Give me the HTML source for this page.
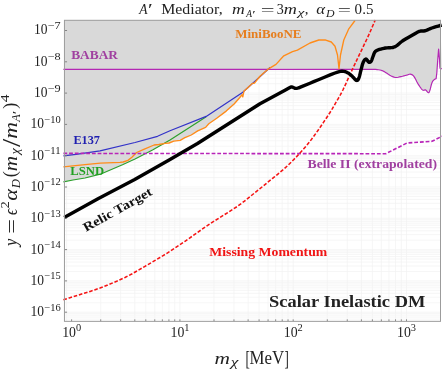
<!DOCTYPE html>
<html><head><meta charset="utf-8"><title>Scalar Inelastic DM</title>
<style>html,body{margin:0;padding:0;background:#fff}svg{display:block}text{font-family:"Liberation Serif",serif;fill:#222}.b{font-weight:bold}.i{font-style:italic}</style></head><body>
<svg width="442" height="372" viewBox="0 0 442 372">
<rect width="442" height="372" fill="#fff"/>
<path d="M66.60 20.30V321.35M100.71 20.30V321.35M120.66 20.30V321.35M134.81 20.30V321.35M145.79 20.30V321.35M154.76 20.30V321.35M162.35 20.30V321.35M168.92 20.30V321.35M174.72 20.30V321.35M179.90 20.30V321.35M214.01 20.30V321.35M233.96 20.30V321.35M248.11 20.30V321.35M259.09 20.30V321.35M268.06 20.30V321.35M275.65 20.30V321.35M282.22 20.30V321.35M288.02 20.30V321.35M293.20 20.30V321.35M327.31 20.30V321.35M347.26 20.30V321.35M361.41 20.30V321.35M372.39 20.30V321.35M381.36 20.30V321.35M388.95 20.30V321.35M395.52 20.30V321.35M401.32 20.30V321.35M406.50 20.30V321.35M64.45 319.14H440.50M64.45 317.05H440.50M64.45 315.23H440.50M64.45 313.63H440.50M64.45 312.20H440.50M64.45 302.78H440.50M64.45 297.27H440.50M64.45 293.36H440.50M64.45 290.32H440.50M64.45 287.84H440.50M64.45 285.75H440.50M64.45 283.93H440.50M64.45 282.33H440.50M64.45 280.90H440.50M64.45 271.48H440.50M64.45 265.97H440.50M64.45 262.06H440.50M64.45 259.02H440.50M64.45 256.54H440.50M64.45 254.45H440.50M64.45 252.63H440.50M64.45 251.03H440.50M64.45 249.60H440.50M64.45 240.18H440.50M64.45 234.67H440.50M64.45 230.76H440.50M64.45 227.72H440.50M64.45 225.24H440.50M64.45 223.15H440.50M64.45 221.33H440.50M64.45 219.73H440.50M64.45 218.30H440.50M64.45 208.88H440.50M64.45 203.37H440.50M64.45 199.46H440.50M64.45 196.42H440.50M64.45 193.94H440.50M64.45 191.85H440.50M64.45 190.03H440.50M64.45 188.43H440.50M64.45 187.00H440.50M64.45 177.58H440.50M64.45 172.07H440.50M64.45 168.16H440.50M64.45 165.12H440.50M64.45 162.64H440.50M64.45 160.55H440.50M64.45 158.73H440.50M64.45 157.13H440.50M64.45 155.70H440.50M64.45 146.28H440.50M64.45 140.77H440.50M64.45 136.86H440.50M64.45 133.82H440.50M64.45 131.34H440.50M64.45 129.25H440.50M64.45 127.43H440.50M64.45 125.83H440.50M64.45 124.40H440.50M64.45 114.98H440.50M64.45 109.47H440.50M64.45 105.56H440.50M64.45 102.52H440.50M64.45 100.04H440.50M64.45 97.95H440.50M64.45 96.13H440.50M64.45 94.53H440.50M64.45 93.10H440.50M64.45 83.68H440.50M64.45 78.17H440.50M64.45 74.26H440.50M64.45 71.22H440.50M64.45 68.74H440.50M64.45 66.65H440.50M64.45 64.83H440.50M64.45 63.23H440.50M64.45 61.80H440.50M64.45 52.38H440.50M64.45 46.87H440.50M64.45 42.96H440.50M64.45 39.92H440.50M64.45 37.44H440.50M64.45 35.35H440.50M64.45 33.53H440.50M64.45 31.93H440.50M64.45 30.50H440.50M64.45 21.08H440.50" stroke="#f2f2f2" stroke-width="0.7" fill="none"/>
<polygon points="64.45,20.30 64.45,181.80 73.00,180.00 85.00,178.00 100.30,174.20 122.50,164.80 135.00,159.00 152.50,150.00 165.10,143.40 169.10,143.00 173.80,141.10 180.20,140.30 184.90,137.70 191.30,135.00 197.70,130.90 205.60,127.40 208.80,123.80 216.70,118.30 226.20,111.10 234.10,104.00 239.60,97.70 242.00,94.80 242.80,96.90 243.90,91.30 249.90,85.80 252.00,83.60 254.50,83.00 260.00,76.30 268.90,68.60 370.00,69.35 374.70,69.35 375.68,69.44 377.09,69.57 378.63,69.76 380.00,70.00 381.09,70.29 382.08,70.62 383.08,71.04 384.20,71.60 385.50,72.39 386.91,73.36 388.37,74.34 389.80,75.20 391.20,75.94 392.60,76.63 394.00,77.18 395.40,77.50 396.80,77.51 398.20,77.28 399.60,76.94 401.00,76.60 402.45,76.28 403.93,75.91 405.34,75.53 406.60,75.20 407.64,74.85 408.53,74.49 409.35,74.24 410.20,74.20 411.07,74.34 411.91,74.62 412.78,75.16 413.70,76.10 414.70,77.62 415.76,79.59 416.83,81.70 417.90,83.60 419.00,85.33 420.13,87.03 421.20,88.51 422.10,89.60 422.79,90.15 423.33,90.29 423.77,90.24 424.20,90.20 424.57,90.12 424.86,89.91 425.17,89.78 425.60,89.90 426.23,90.50 427.00,91.41 427.77,92.27 428.40,92.70 428.83,92.65 429.14,92.31 429.43,91.63 429.80,90.60 430.28,88.96 430.81,86.81 431.36,84.63 431.90,82.90 432.42,81.75 432.95,80.94 433.47,80.33 434.00,79.80 434.57,79.36 435.18,79.06 435.72,78.85 436.10,78.70 436.80,73.00 437.80,59.00 438.60,49.20 439.50,59.00 440.00,68.10 441.70,68.90 440.50,20.30" fill="#d9d9d9"/>
<g fill="none" stroke-linejoin="round">
<polyline points="63.40,69.40 370.00,69.35 374.70,69.35 375.68,69.44 377.09,69.57 378.63,69.76 380.00,70.00 381.09,70.29 382.08,70.62 383.08,71.04 384.20,71.60 385.50,72.39 386.91,73.36 388.37,74.34 389.80,75.20 391.20,75.94 392.60,76.63 394.00,77.18 395.40,77.50 396.80,77.51 398.20,77.28 399.60,76.94 401.00,76.60 402.45,76.28 403.93,75.91 405.34,75.53 406.60,75.20 407.64,74.85 408.53,74.49 409.35,74.24 410.20,74.20 411.07,74.34 411.91,74.62 412.78,75.16 413.70,76.10 414.70,77.62 415.76,79.59 416.83,81.70 417.90,83.60 419.00,85.33 420.13,87.03 421.20,88.51 422.10,89.60 422.79,90.15 423.33,90.29 423.77,90.24 424.20,90.20 424.57,90.12 424.86,89.91 425.17,89.78 425.60,89.90 426.23,90.50 427.00,91.41 427.77,92.27 428.40,92.70 428.83,92.65 429.14,92.31 429.43,91.63 429.80,90.60 430.28,88.96 430.81,86.81 431.36,84.63 431.90,82.90 432.42,81.75 432.95,80.94 433.47,80.33 434.00,79.80 434.57,79.36 435.18,79.06 435.72,78.85 436.10,78.70 436.80,73.00 437.80,59.00 438.60,49.20 439.50,59.00 440.00,68.10 441.70,68.90" stroke="#b428b4" stroke-width="1.2"/>
<polyline points="63.40,181.80 73.00,180.00 85.00,178.00 100.30,174.20 122.50,164.80 135.00,159.00 152.50,150.00 170.00,140.00 206.20,116.80" stroke="#2ca02c" stroke-width="1.2"/>
<polyline points="63.40,155.80 76.00,154.30 100.00,150.90 135.00,142.50 157.50,136.30 170.00,130.80 206.20,116.40 242.50,92.50 255.00,81.30 270.00,67.50" stroke="#3232c8" stroke-width="1.2"/>
<polyline points="63.40,166.80 85.00,164.60 100.30,163.20 120.00,162.40 123.20,162.00 127.90,160.40 131.90,157.20 136.60,152.50 143.80,149.30 154.10,145.00 158.80,144.50 165.10,143.40 169.10,143.00 173.80,141.10 180.20,140.30 184.90,137.70 191.30,135.00 197.70,130.90 205.60,127.40 208.80,123.80 216.70,118.30 226.20,111.10 234.10,104.00 239.60,97.70 242.00,94.80 242.80,96.90 243.90,91.30 249.90,85.80 252.00,83.60 254.50,83.00 260.00,76.30 268.90,68.60 276.00,64.40 283.80,55.80 292.50,51.60 297.40,50.10 310.00,43.00 318.80,40.00 325.00,39.80 331.30,42.00 335.00,46.30 337.50,55.00 339.00,68.70 340.50,55.00 343.80,40.00 348.80,28.80 355.00,20.50" stroke="#ff8c1a" stroke-width="1.35"/>
<polyline points="63.40,153.40 385.80,153.70 407.00,143.00 432.00,141.30 442.00,136.30" stroke="#b824b8" stroke-width="1.6" stroke-dasharray="3.8 1.9"/>
<polyline points="63.40,299.70 69.24,297.90 77.49,295.36 85.00,293.00 90.12,291.41 94.50,290.01 100.00,288.00 107.78,284.93 116.67,281.26 125.00,277.50 132.22,273.73 138.89,269.88 145.00,266.30 150.56,263.09 155.56,260.15 160.00,257.50 163.52,255.38 166.48,253.55 170.00,251.30 174.26,248.53 179.07,245.33 185.00,241.30 192.50,236.02 201.11,229.91 210.00,223.80 219.35,217.83 228.98,211.85 237.50,206.30 244.46,201.15 250.31,196.43 255.00,192.60 258.07,190.17 259.98,188.64 262.00,187.00 264.63,184.84 267.37,182.56 270.00,180.40 272.28,178.59 274.44,176.88 277.00,174.80 280.17,172.19 283.72,169.21 287.50,165.80 291.61,161.77 295.94,157.33 300.00,153.00 303.52,149.10 306.76,145.31 310.00,141.30 313.33,136.90 316.67,132.27 320.00,127.50 323.47,122.43 326.94,117.23 330.00,112.50 332.36,108.66 334.31,105.29 336.30,101.80 338.37,98.28 340.47,94.63 342.90,90.00 345.69,84.08 348.79,77.17 352.40,69.30 357.10,59.41 362.31,48.56 366.40,40.00 368.44,35.67 369.38,33.63 370.40,31.30 372.12,27.31 373.93,23.03 375.20,20.00" stroke="#f51414" stroke-width="1.55" stroke-dasharray="3.6 1.8"/>
<polyline points="64.20,217.40 98.00,198.70 134.70,179.60 170.00,159.50 197.50,143.50 260.00,103.80 285.00,90.20 289.00,88.00 289.42,87.76 290.03,87.42 290.70,87.09 291.30,86.90 291.81,86.90 292.28,87.03 292.74,87.21 293.20,87.40 293.64,87.62 294.06,87.89 294.50,88.14 295.00,88.30 295.55,88.37 296.14,88.39 296.79,88.33 297.50,88.20 298.39,87.93 299.41,87.54 300.35,87.16 301.00,86.90 310.00,83.20 313.68,81.68 319.04,79.45 325.06,76.96 330.72,74.66 335.00,73.00 337.65,72.06 339.36,71.55 340.48,71.33 341.41,71.29 342.50,71.30 343.74,71.38 344.89,71.60 345.97,71.95 347.00,72.39 348.00,72.90 348.97,73.50 349.90,74.22 350.79,75.01 351.65,75.82 352.50,76.60 353.34,77.45 354.18,78.40 354.98,79.30 355.73,80.02 356.40,80.40 356.98,80.46 357.48,80.28 357.93,79.87 358.36,79.21 358.80,78.30 359.25,77.02 359.70,75.38 360.14,73.55 360.57,71.70 361.00,70.00 361.42,68.40 361.81,66.79 362.21,65.24 362.64,63.82 363.10,62.60 363.61,61.53 364.16,60.56 364.73,59.76 365.32,59.22 365.90,59.00 366.50,59.29 367.12,60.03 367.74,60.97 368.34,61.81 368.90,62.30 369.41,62.42 369.89,62.35 370.35,62.11 370.78,61.72 371.20,61.20 371.59,60.49 371.95,59.57 372.30,58.54 372.64,57.48 373.00,56.50 373.35,55.55 373.69,54.57 374.03,53.62 374.43,52.74 374.90,52.00 375.40,51.42 375.92,50.98 376.52,50.61 377.26,50.27 378.20,49.90 379.42,49.48 380.88,49.06 382.47,48.65 384.08,48.29 385.60,48.00 387.07,47.83 388.56,47.77 390.02,47.73 391.39,47.67 392.60,47.50 393.60,47.25 394.41,46.97 395.15,46.62 395.92,46.18 396.80,45.60 397.78,44.86 398.80,43.97 399.88,43.00 401.07,41.99 402.40,41.00 403.92,40.02 405.60,39.01 407.37,37.99 409.16,36.98 410.90,36.00 412.63,34.99 414.40,33.94 416.15,32.93 417.80,32.06 419.30,31.40 420.58,31.06 421.67,30.98 422.69,31.01 423.74,31.00 424.90,30.80 426.17,30.38 427.46,29.84 428.83,29.23 430.30,28.60 431.90,28.00 433.84,27.38 436.09,26.71 438.35,26.06 440.32,25.50 441.70,25.10" stroke="#000" stroke-width="3.4"/>
</g>
<path d="M64.45 312.20h2.6M64.45 280.90h2.6M64.45 249.60h2.6M64.45 218.30h2.6M64.45 187.00h2.6M64.45 155.70h2.6M64.45 124.40h2.6M64.45 93.10h2.6M64.45 61.80h2.6M64.45 30.50h2.6M71.60 321.35v-2M100.71 321.35v-2M120.66 321.35v-2M134.81 321.35v-2M145.79 321.35v-2M154.76 321.35v-2M162.35 321.35v-2M168.92 321.35v-2M174.72 321.35v-2M179.90 321.35v-2M214.01 321.35v-2M233.96 321.35v-2M248.11 321.35v-2M259.09 321.35v-2M268.06 321.35v-2M275.65 321.35v-2M282.22 321.35v-2M288.02 321.35v-2M293.20 321.35v-2M327.31 321.35v-2M347.26 321.35v-2M361.41 321.35v-2M372.39 321.35v-2M381.36 321.35v-2M388.95 321.35v-2M395.52 321.35v-2M401.32 321.35v-2M406.50 321.35v-2" stroke="#7c7c7c" stroke-width="0.9" fill="none"/>
<rect x="64.45" y="20.30" width="376.05" height="301.05" fill="none" stroke="#9c9c9c" stroke-width="1"/>
<text x="60.7" y="310.60" font-size="9.8" text-anchor="end" textLength="16.4" lengthAdjust="spacingAndGlyphs">−16</text>
<text x="44.00" y="316.10" font-size="14.2" text-anchor="end" textLength="13.5" lengthAdjust="spacingAndGlyphs">10</text>
<text x="60.7" y="279.30" font-size="9.8" text-anchor="end" textLength="16.4" lengthAdjust="spacingAndGlyphs">−15</text>
<text x="44.00" y="284.80" font-size="14.2" text-anchor="end" textLength="13.5" lengthAdjust="spacingAndGlyphs">10</text>
<text x="60.7" y="248.00" font-size="9.8" text-anchor="end" textLength="16.4" lengthAdjust="spacingAndGlyphs">−14</text>
<text x="44.00" y="253.50" font-size="14.2" text-anchor="end" textLength="13.5" lengthAdjust="spacingAndGlyphs">10</text>
<text x="60.7" y="216.70" font-size="9.8" text-anchor="end" textLength="16.4" lengthAdjust="spacingAndGlyphs">−13</text>
<text x="44.00" y="222.20" font-size="14.2" text-anchor="end" textLength="13.5" lengthAdjust="spacingAndGlyphs">10</text>
<text x="60.7" y="185.40" font-size="9.8" text-anchor="end" textLength="16.4" lengthAdjust="spacingAndGlyphs">−12</text>
<text x="44.00" y="190.90" font-size="14.2" text-anchor="end" textLength="13.5" lengthAdjust="spacingAndGlyphs">10</text>
<text x="60.7" y="154.10" font-size="9.8" text-anchor="end" textLength="16.4" lengthAdjust="spacingAndGlyphs">−11</text>
<text x="44.00" y="159.60" font-size="14.2" text-anchor="end" textLength="13.5" lengthAdjust="spacingAndGlyphs">10</text>
<text x="60.7" y="122.80" font-size="9.8" text-anchor="end" textLength="16.4" lengthAdjust="spacingAndGlyphs">−10</text>
<text x="44.00" y="128.30" font-size="14.2" text-anchor="end" textLength="13.5" lengthAdjust="spacingAndGlyphs">10</text>
<text x="60.7" y="91.50" font-size="9.8" text-anchor="end" textLength="13.0" lengthAdjust="spacingAndGlyphs">−9</text>
<text x="47.40" y="97.00" font-size="14.2" text-anchor="end" textLength="13.5" lengthAdjust="spacingAndGlyphs">10</text>
<text x="60.7" y="60.20" font-size="9.8" text-anchor="end" textLength="13.0" lengthAdjust="spacingAndGlyphs">−8</text>
<text x="47.40" y="65.70" font-size="14.2" text-anchor="end" textLength="13.5" lengthAdjust="spacingAndGlyphs">10</text>
<text x="60.7" y="28.90" font-size="9.8" text-anchor="end" textLength="13.0" lengthAdjust="spacingAndGlyphs">−7</text>
<text x="47.40" y="34.40" font-size="14.2" text-anchor="end" textLength="13.5" lengthAdjust="spacingAndGlyphs">10</text>
<text x="62.20" y="336.9" font-size="14.2" textLength="13.8" lengthAdjust="spacingAndGlyphs">10</text>
<text x="75.90" y="331.4" font-size="9.8" textLength="5.2" lengthAdjust="spacingAndGlyphs">0</text>
<text x="170.50" y="336.9" font-size="14.2" textLength="13.8" lengthAdjust="spacingAndGlyphs">10</text>
<text x="184.20" y="331.4" font-size="9.8" textLength="5.2" lengthAdjust="spacingAndGlyphs">1</text>
<text x="283.80" y="336.9" font-size="14.2" textLength="13.8" lengthAdjust="spacingAndGlyphs">10</text>
<text x="297.50" y="331.4" font-size="9.8" textLength="5.2" lengthAdjust="spacingAndGlyphs">2</text>
<text x="397.10" y="336.9" font-size="14.2" textLength="13.8" lengthAdjust="spacingAndGlyphs">10</text>
<text x="410.80" y="331.4" font-size="9.8" textLength="5.2" lengthAdjust="spacingAndGlyphs">3</text>
<text class="b" x="71.2" y="59.3" font-size="12.4" textLength="46.8" lengthAdjust="spacingAndGlyphs" style="fill:#a040a0">BABAR</text>
<text class="b" x="73.4" y="143.7" font-size="12.4" textLength="26.6" lengthAdjust="spacingAndGlyphs" style="fill:#2020b0">E137</text>
<text class="b" x="70.3" y="174.8" font-size="12.4" textLength="33.8" lengthAdjust="spacingAndGlyphs" style="fill:#22a022">LSND</text>
<text class="b" x="235.3" y="37.9" font-size="12.4" textLength="66.2" lengthAdjust="spacingAndGlyphs" style="fill:#e67e1e">MiniBooNE</text>
<text class="b" x="307.5" y="168" font-size="12.4" textLength="129.5" lengthAdjust="spacingAndGlyphs" style="fill:#a040a0">Belle II (extrapolated)</text>
<text class="b" x="209.3" y="255.8" font-size="12.4" textLength="118" lengthAdjust="spacingAndGlyphs" style="fill:#f01414">Missing Momentum</text>
<text class="b" x="269" y="307.0" font-size="16.6" textLength="156.4" lengthAdjust="spacingAndGlyphs" style="fill:#222">Scalar Inelastic DM</text>
<text class="b" transform="translate(86.0,232.1) rotate(-29.3)" font-size="12.8" textLength="77" lengthAdjust="spacingAndGlyphs" style="fill:#111">Relic Target</text>
<text x="139.34" y="14.10" font-size="15.50" textLength="8.22" lengthAdjust="spacingAndGlyphs" class="i">A</text>
<text x="147.93" y="15.00" font-size="16.50" textLength="4.73" lengthAdjust="spacingAndGlyphs">′</text>
<text x="161.25" y="14.10" font-size="15.50" textLength="61.34" lengthAdjust="spacingAndGlyphs">Mediator,</text>
<text x="231.96" y="14.10" font-size="15.00" textLength="12.78" lengthAdjust="spacingAndGlyphs" class="i">m</text>
<text x="246.32" y="17.20" font-size="9.60" textLength="5.75" lengthAdjust="spacingAndGlyphs" class="i">A</text>
<text x="252.22" y="17.60" font-size="11.00" textLength="3.46" lengthAdjust="spacingAndGlyphs">′</text>
<text x="260.88" y="14.90" font-size="15.50" textLength="13.82" lengthAdjust="spacingAndGlyphs">=</text>
<text x="276.83" y="14.10" font-size="14.00" textLength="7.02" lengthAdjust="spacingAndGlyphs">3</text>
<text x="283.74" y="14.10" font-size="15.00" textLength="13.12" lengthAdjust="spacingAndGlyphs" class="i">m</text>
<text x="297.70" y="16.20" font-size="11.00" textLength="6.59" lengthAdjust="spacingAndGlyphs" class="i">χ</text>
<text x="304.84" y="14.10" font-size="15.50" textLength="3.69" lengthAdjust="spacingAndGlyphs">,</text>
<text x="316.20" y="14.10" font-size="15.00" textLength="8.82" lengthAdjust="spacingAndGlyphs" class="i">α</text>
<text x="326.03" y="17.20" font-size="9.60" textLength="8.55" lengthAdjust="spacingAndGlyphs" class="i">D</text>
<text x="337.73" y="14.90" font-size="15.50" textLength="13.21" lengthAdjust="spacingAndGlyphs">=</text>
<text x="354.63" y="14.10" font-size="14.00" textLength="18.76" lengthAdjust="spacingAndGlyphs">0.5</text>
<text x="214.63" y="363.50" font-size="17.60" textLength="15.47" lengthAdjust="spacingAndGlyphs" class="i">m</text>
<text x="230.79" y="366.00" font-size="13.00" textLength="7.65" lengthAdjust="spacingAndGlyphs" class="i">χ</text>
<text x="245.53" y="364.60" font-size="21.50" textLength="4.34" lengthAdjust="spacingAndGlyphs">[</text>
<text x="249.51" y="363.50" font-size="18.60" textLength="34.68" lengthAdjust="spacingAndGlyphs">MeV</text>
<text x="284.53" y="364.60" font-size="21.50" textLength="4.34" lengthAdjust="spacingAndGlyphs">]</text>
<g transform="translate(16.9,247.5) rotate(-90)">
<text x="1.58" y="0.00" font-size="18.50" textLength="7.32" lengthAdjust="spacingAndGlyphs" class="i">y</text>
<text x="13.70" y="0.60" font-size="18.50" textLength="14.66" lengthAdjust="spacingAndGlyphs">=</text>
<text x="32.44" y="0.00" font-size="18.50" textLength="6.26" lengthAdjust="spacingAndGlyphs" class="i">ϵ</text>
<text x="39.05" y="-7.80" font-size="12.00" textLength="7.36" lengthAdjust="spacingAndGlyphs">2</text>
<text x="46.74" y="0.00" font-size="18.50" textLength="11.69" lengthAdjust="spacingAndGlyphs" class="i">α</text>
<text x="59.34" y="2.70" font-size="12.40" textLength="9.15" lengthAdjust="spacingAndGlyphs" class="i">D</text>
<text x="70.21" y="-0.50" font-size="19.00" textLength="5.96" lengthAdjust="spacingAndGlyphs">(</text>
<text x="76.23" y="0.00" font-size="18.50" textLength="15.36" lengthAdjust="spacingAndGlyphs" class="i">m</text>
<text x="93.06" y="2.20" font-size="13.00" textLength="6.35" lengthAdjust="spacingAndGlyphs" class="i">χ</text>
<text x="100.60" y="3.30" font-size="25.50" textLength="8.20" lengthAdjust="spacingAndGlyphs">/</text>
<text x="108.86" y="0.00" font-size="18.50" textLength="16.82" lengthAdjust="spacingAndGlyphs" class="i">m</text>
<text x="125.77" y="2.70" font-size="12.40" textLength="7.49" lengthAdjust="spacingAndGlyphs" class="i">A</text>
<text x="133.18" y="3.60" font-size="13.00" textLength="3.64" lengthAdjust="spacingAndGlyphs">′</text>
<text x="138.72" y="-0.50" font-size="19.00" textLength="5.96" lengthAdjust="spacingAndGlyphs">)</text>
<text x="145.19" y="-8.20" font-size="12.00" textLength="7.85" lengthAdjust="spacingAndGlyphs">4</text>
</g>
</svg></body></html>
